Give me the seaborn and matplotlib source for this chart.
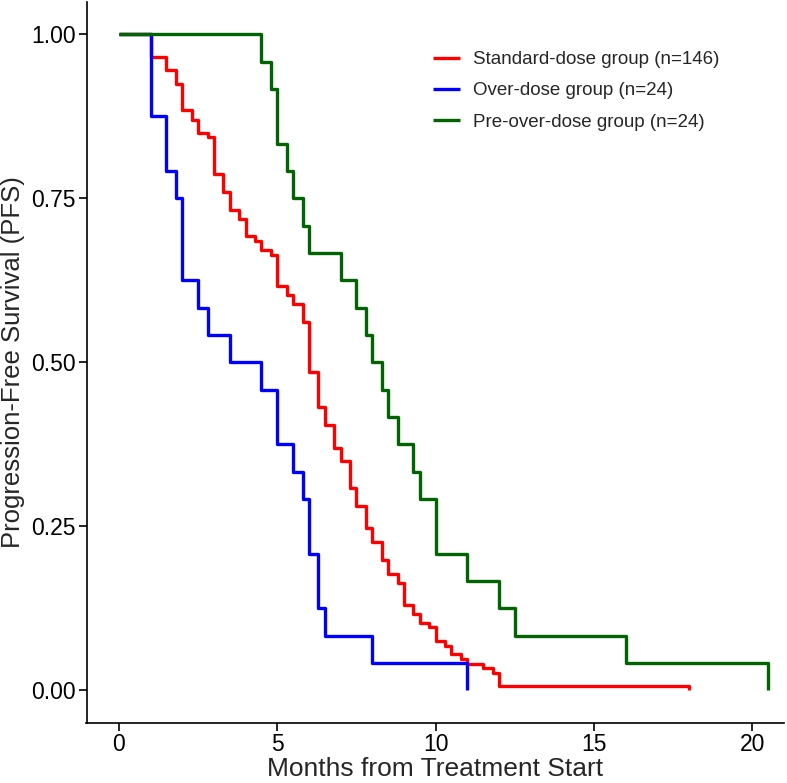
import pandas as pd
import seaborn as sns
import matplotlib.pyplot as plt

# Kaplan-Meier step values
std_t = [0, 1.0, 1.5, 1.8, 2.0, 2.3, 2.5, 2.8, 3.0, 3.3, 3.5, 3.8, 4.0, 4.3, 4.5, 4.8,
         5.0, 5.3, 5.5, 5.8, 6.0, 6.3, 6.5, 6.8, 7.0, 7.3, 7.5, 7.8, 8.0, 8.3, 8.5, 8.8,
         9.0, 9.3, 9.5, 9.8, 10.0, 10.3, 10.5, 10.8, 11.0, 11.5, 11.8, 12.0, 18.0]
std_s = [1.0, 0.966, 0.945, 0.924, 0.884, 0.870, 0.849, 0.843, 0.787, 0.760, 0.732, 0.719,
         0.692, 0.685, 0.671, 0.664, 0.616, 0.603, 0.589, 0.562, 0.486, 0.432, 0.404, 0.370,
         0.349, 0.308, 0.281, 0.247, 0.226, 0.199, 0.178, 0.164, 0.130, 0.116, 0.103, 0.096,
         0.075, 0.068, 0.055, 0.048, 0.041, 0.034, 0.027, 0.007, 0.0]

over_t = [0, 1.0, 1.5, 1.8, 2.0, 2.5, 2.8, 3.5, 4.5, 5.0, 5.5, 5.8, 6.0, 6.3, 6.5, 8.0, 11.0]
over_s = [1.0, 0.875, 0.7917, 0.75, 0.625, 0.5833, 0.5417, 0.5, 0.4583, 0.375, 0.3333,
          0.2917, 0.2083, 0.125, 0.0833, 0.0417, 0.0]

pre_t = [0, 4.5, 4.8, 5.0, 5.3, 5.5, 5.8, 6.0, 7.0, 7.5, 7.8, 8.0, 8.3, 8.5, 8.8, 9.3, 9.5,
         10.0, 11.0, 12.0, 12.5, 16.0, 20.5]
pre_s = [1.0, 0.9583, 0.9167, 0.8333, 0.7917, 0.75, 0.7083, 0.6667, 0.625, 0.5833, 0.5417,
         0.5, 0.4583, 0.4167, 0.375, 0.3333, 0.2917, 0.2083, 0.1667, 0.125, 0.0833, 0.0417, 0.0]

groups = ["Standard-dose group (n=146)", "Over-dose group (n=24)", "Pre-over-dose group (n=24)"]
colors = ["#FF0000", "#0000FF", "#006400"]

df = pd.concat([
    pd.DataFrame({"time": std_t, "surv": std_s, "group": groups[0]}),
    pd.DataFrame({"time": over_t, "surv": over_s, "group": groups[1]}),
    pd.DataFrame({"time": pre_t, "surv": pre_s, "group": groups[2]}),
])

sns.set_style("ticks")
plt.rcParams["font.family"] = ["Liberation Sans", "DejaVu Sans"]

fig = plt.figure(figsize=(7.87, 7.83), dpi=100)
ax = fig.add_axes([86.5 / 787, 59.7 / 783, 697 / 787, 721.8 / 783])

sns.lineplot(data=df, x="time", y="surv", hue="group", hue_order=groups,
             palette=colors, drawstyle="steps-post", linewidth=2.4,
             errorbar=None, ax=ax, solid_capstyle="butt")

ax.set_xlim(-1.025, 20.99)
ax.set_ylim(-0.05, 1.05)
ax.set_xticks([0, 5, 10, 15, 20])
ax.set_yticks([0, 0.25, 0.5, 0.75, 1.0])
ax.set_yticklabels(["0.00", "0.25", "0.50", "0.75", "1.00"])
sns.despine(ax=ax)
for sp in ["left", "bottom"]:
    ax.spines[sp].set_linewidth(1.2)
    ax.spines[sp].set_color("black")
ax.tick_params(axis="both", length=6, width=1.2, color="black",
               labelsize=16.5, labelcolor="black")
ax.tick_params(axis="x", pad=1)
ax.tick_params(axis="y", pad=2)

ax.set_xlabel("Months from Treatment Start", fontsize=19)
ax.set_ylabel("Progression-Free Survival (PFS)", fontsize=18.5)
ax.xaxis.set_label_coords(0.5, -0.046)
ax.yaxis.set_label_coords(-0.088, 0.5)

handles, labels = ax.get_legend_handles_labels()
for h in handles:
    h.set_linewidth(2.4)
ax.legend(handles, labels, loc="upper left", bbox_to_anchor=(0.497, 0.9315),
          frameon=False, fontsize=13.5, handlelength=1.44, handletextpad=0.68,
          labelspacing=0.76, borderaxespad=0, borderpad=0)

fig.savefig("out.png", dpi=100)
